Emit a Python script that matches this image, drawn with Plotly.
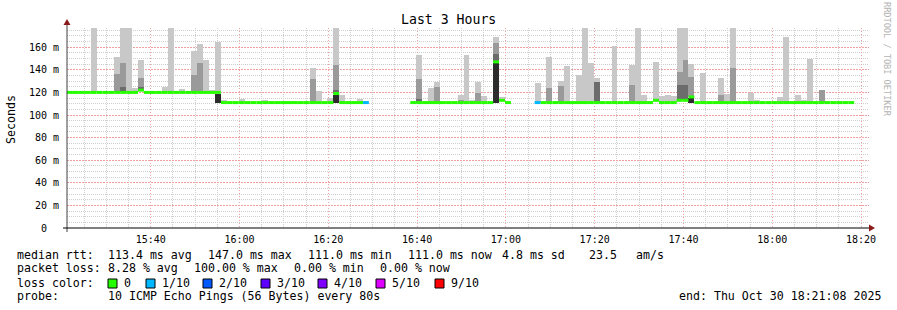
import pandas as pd
import plotly.graph_objects as go

# ---------------- data ----------------
START = pd.Timestamp("2025-10-30 15:21:08")
END_LABEL = "end: Thu Oct 30 18:21:08 2025"
STEP_S = 80  # one probe round every 80 s

# median rtt (ms) per 80 s step; None = 100 % loss (no median)
median_ms = [
    120, 120, 120, 120, 120, 120, 120, 120, 120, 120,
    120, 120, 122, 120, 120, 120, 120, 120, 120, 120,
    120, 120, 120, 120, 120, 120, 111, 111, 111, 111,
    111, 111, 111, 111, 111, 111, 111, 111, 111, 111,
    111, 111, 111, 111, 111, 119, 111, 111, 111, 111,
    111, None, None, None, None, None, None, None, 111, 111,
    111, 111, 111, 111, 111, 111, 111, 111, 111, 111,
    111, 111, 147, 113, 111, None, None, None, None, 111,
    111, 111, 111, 111, 111, 111, 111, 111, 111, 111,
    111, 111, 111, 111, 111, 111, 111, 111, 111, 113,
    111, 111, 111, 113, 113, 116, 111, 111, 111, 111,
    111, 111, 111, 111, 111, 111, 111, 111, 111, 111,
    111, 111, 111, 111, 111, 111, 111, 111, 111, 111,
    111, 111, 111,
]
# lost pings out of 10 per step
loss_tenths = [
    0, 0, 0, 0, 0, 0, 0, 0, 0, 0,
    0, 0, 0, 0, 0, 0, 0, 0, 0, 0,
    0, 0, 0, 0, 0, 0, 0, 0, 0, 0,
    0, 0, 0, 0, 0, 0, 0, 0, 0, 0,
    0, 0, 0, 0, 0, 0, 0, 0, 0, 0,
    1, 10, 10, 10, 10, 10, 10, 10, 0, 0,
    0, 0, 0, 0, 0, 0, 0, 0, 0, 0,
    0, 0, 0, 0, 0, 10, 10, 10, 10, 1,
    0, 0, 0, 0, 0, 0, 0, 0, 0, 0,
    0, 0, 0, 0, 0, 0, 0, 0, 0, 0,
    0, 0, 0, 0, 0, 0, 0, 0, 0, 0,
    0, 0, 0, 0, 0, 0, 0, 0, 0, 0,
    0, 0, 0, 0, 0, 0, 0, 0, 0, 0,
    0, 0, 0,
]

# smoke above the median: step index, top of light / mid / dark shade (ms)
smoke_step = [3, 4, 7, 8, 9, 10, 11, 12, 16, 17, 19, 21, 22, 23, 24, 25, 26, 29, 33,
              41, 42, 44, 45, 46, 49, 59, 61, 62, 66, 67, 68, 69, 70, 72, 73, 79,
              81, 83, 84, 86, 87, 88, 89, 92, 95, 96, 97, 99, 100, 101, 102, 103, 104,
              105, 107, 110, 111, 112, 115, 116, 120, 121, 123, 124, 125, 127]
smoke_light = [121.5, 177, 121.5, 151, 177, 177, 124, 149, 125, 177, 123, 156.5, 163, 148.5, 122, 164.5, 113, 114, 113,
               141.5, 121, 115, 177, 117.5, 114, 153, 124, 129, 117.5, 153, 113, 129, 116.5, 169, 116, 128,
               151, 130, 143, 135, 177, 146, 133, 161, 144, 177, 117.5, 147, 116.5, 117.5, 116.5, 177, 177,
               145, 137, 132.5, 118.5, 177, 119.5, 113, 116, 169, 117.5, 113, 150, None]
smoke_mid = [None, None, None, 136, 146, None, None, 133, None, None, None, 135, 146, None, None, None, None, None, None,
             132, None, None, 144, None, None, 132, None, 125, 113, None, None, 119.5, None, 164, None, None,
             124, 125.5, None, None, None, None, None, None, 127, None, None, None, None, None, None, 138, 148.5,
             133.5, None, 117.5, None, 141.5, None, None, None, None, None, None, None, 122]
smoke_dark = [None, None, None, None, 125, None, None, 125, None, None, None, None, None, None, None, None, None, None, None,
              None, None, None, 122, None, None, 114, None, None, None, None, None, None, None, 154, None, None,
              None, None, None, None, None, None, 129, None, None, None, None, 114, None, None, None, 127, 127,
              None, None, None, None, None, None, None, None, None, None, None, None, None]

# fastest pings below the median (black smoke): step index, bottom, top (ms)
low_step = [25, 45, 72, 105]
low_bottom = [111, 111, 111, 111]
low_top = [119, 118, 146, 115]

loss_colors = {0: "#26ff00", 1: "#00b8ff", 2: "#0059ff", 3: "#5e00ff",
               4: "#7e00ff", 5: "#dd00ff", 9: "#ff0000"}
loss_labels = {0: "0", 1: "1/10", 2: "2/10", 3: "3/10", 4: "4/10", 5: "5/10", 9: "9/10"}

y_tick_vals = [0, 20, 40, 60, 80, 100, 120, 140, 160]
y_tick_text = ["0\u00a0\u00a0", "20\u00a0m", "40\u00a0m", "60\u00a0m", "80\u00a0m",
               "100\u00a0m", "120\u00a0m", "140\u00a0m", "160\u00a0m"]

stats_rtt = ["median rtt:", "113.4 ms avg", "147.0 ms max", "111.0 ms min", "111.0 ms now",
             "4.8 ms sd", "23.5", "am/s"]
stats_loss = ["packet loss:", "8.28 % avg", "100.00 % max", "0.00 % min", "0.00 % now"]
probe_text = ["probe:", "10 ICMP Echo Pings (56 Bytes) every 80s"]

# ---------------- layout geometry (pixels) ----------------
W, H = 897, 310
L, R, T, B = 67, 869, 28, 228
FONT = "DejaVu Sans Mono"


def px(x):
    return (x - L) / (R - L)


def py(y):
    return (B - y) / (B - T)


def t(i, frac=0.0):
    return START + pd.Timedelta(seconds=STEP_S * (i + frac))


fig = go.Figure()

# smoke layers
shades = [("light", smoke_light, "#c8c8c8"), ("mid", smoke_mid, "#9a9a9a"), ("dark", smoke_dark, "#6c6c6c")]
for name, tops, col in shades:
    xs, bases, hs = [], [], []
    for s, top in zip(smoke_step, tops):
        if top is None or median_ms[s] is None:
            continue
        xs.append(t(s, 0.5))
        bases.append(median_ms[s])
        hs.append(top - median_ms[s])
    fig.add_trace(go.Bar(x=xs, y=hs, base=bases, width=STEP_S * 1000,
                         marker=dict(color=col, line=dict(width=0)), showlegend=False,
                         hoverinfo="skip"))

fig.add_trace(go.Bar(x=[t(s, 0.5) for s in low_step],
                     y=[tp - bt for tp, bt in zip(low_top, low_bottom)],
                     base=low_bottom, width=STEP_S * 1000,
                     marker=dict(color="#2c2c2c", line=dict(width=0)),
                     showlegend=False, hoverinfo="skip"))

# median line, coloured by loss
for lv in sorted(set(loss_tenths)):
    if lv >= 10:
        continue
    xs, ys = [], []
    for i, (m, l) in enumerate(zip(median_ms, loss_tenths)):
        if m is None or l != lv:
            continue
        xs += [t(i), t(i + 1), None]
        ys += [m, m, None]
    col = loss_colors.get(lv, "#ff0000")
    fig.add_trace(go.Scatter(x=xs, y=ys, mode="lines", line=dict(color=col, width=3),
                             showlegend=False, hoverinfo="skip"))

x_end = START + pd.Timedelta(seconds=3 * 3600 + 40)
minor_grid = "#cfcfcf"
major_grid = "#f0a0a0"

# minor grid positions (every 5 min / 5 ms) that are not on a major line
first_grid = pd.Timestamp("2025-10-30 15:25:00")
x_minor = []
g = first_grid
while g <= x_end:
    if g.minute % 20 != 0:
        x_minor.append(g)
    g += pd.Timedelta(minutes=5)
y_minor = [v for v in range(5, 180, 5) if v % 20 != 0]

fig.update_layout(
    width=W, height=H,
    margin=dict(l=L, r=W - R, t=T, b=H - B, pad=0),
    paper_bgcolor="white", plot_bgcolor="white",
    barmode="overlay", bargap=0,
    font=dict(family=FONT, size=10, color="black"),
    showlegend=False,
    xaxis=dict(type="date", range=[START, x_end], tick0="2025-10-30 15:40:00", dtick=1200000,
               tickformat="%H:%M", showgrid=True, gridcolor=major_grid, griddash="1px,2px", gridwidth=1,
               minor=dict(tickmode="array", tickvals=x_minor, showgrid=True,
                          gridcolor=minor_grid, griddash="1px,1px", gridwidth=1, ticks=""),
               showline=False, zeroline=False, ticks="", ticklabelstandoff=4,
               tickfont=dict(family=FONT, size=10, color="black")),
    yaxis=dict(range=[0, 177], tickvals=y_tick_vals, ticktext=y_tick_text,
               showgrid=True, gridcolor=major_grid, griddash="2px,1px", gridwidth=1,
               minor=dict(tickmode="array", tickvals=y_minor, showgrid=True, gridcolor=minor_grid,
                          griddash="1px,1px", gridwidth=1, ticks=""),
               showline=False, zeroline=False, ticks="", ticklabelstandoff=7,
               tickfont=dict(family=FONT, size=10, color="black")),
)

shapes = []
# axes with arrows
shapes.append(dict(type="line", xref="paper", yref="paper", x0=px(L), x1=px(L), y0=py(232), y1=py(24),
                   line=dict(color="#404040", width=1)))
shapes.append(dict(type="line", xref="paper", yref="paper", x0=px(63), x1=px(870), y0=py(B), y1=py(B),
                   line=dict(color="black", width=1)))
shapes.append(dict(type="path", xref="paper", yref="paper",
                   path=f"M {px(63.5)} {py(25)} L {px(70.5)} {py(25)} L {px(67)} {py(19)} Z",
                   fillcolor="#8b1a1a", line=dict(width=0)))
shapes.append(dict(type="path", xref="paper", yref="paper",
                   path=f"M {px(869)} {py(224.5)} L {px(869)} {py(231.5)} L {px(875)} {py(228)} Z",
                   fillcolor="#8b1a1a", line=dict(width=0)))

annotations = []


def text_at(x, y, s, size=11.6, color="black", anchor="left", angle=0):
    annotations.append(dict(x=px(x), y=py(y), xref="paper", yref="paper", text=s.replace(" ", "\u00a0"),
                            showarrow=False, xanchor=anchor, yanchor="middle", textangle=angle,
                            font=dict(family=FONT, size=size, color=color), borderpad=0))


text_at(448, 19, "Last 3 Hours", size=13.2, anchor="center")
text_at(11, 120, "Seconds", size=11.6, anchor="center", angle=-90)
text_at(887, 59, "RRDTOOL / TOBI OETIKER", size=8.6, color="#b4b4b4", anchor="center", angle=90)

rtt_x = [16, 107, 207, 307, 407, 501, 588, 635]
for x, s in zip(rtt_x, stats_rtt):
    text_at(x, 255, s)
loss_x = [16, 107, 193, 293, 379]
for x, s in zip(loss_x, stats_loss):
    text_at(x, 268, s)
text_at(16, 283, "loss color:")
sw_x = [108, 146, 203, 261, 318, 376, 435]
for x, lv in zip(sw_x, sorted(loss_colors)):
    shapes.append(dict(type="rect", xref="paper", yref="paper", x0=px(x), x1=px(x + 9),
                       y0=py(288), y1=py(279), fillcolor=loss_colors[lv],
                       line=dict(color="black", width=1)))
    text_at(x + 15, 283, loss_labels[lv])
text_at(16, 296, probe_text[0])
text_at(107, 296, probe_text[1])
text_at(678, 296, END_LABEL)

fig.update_layout(shapes=shapes, annotations=annotations)
fig.write_html("out.html")
